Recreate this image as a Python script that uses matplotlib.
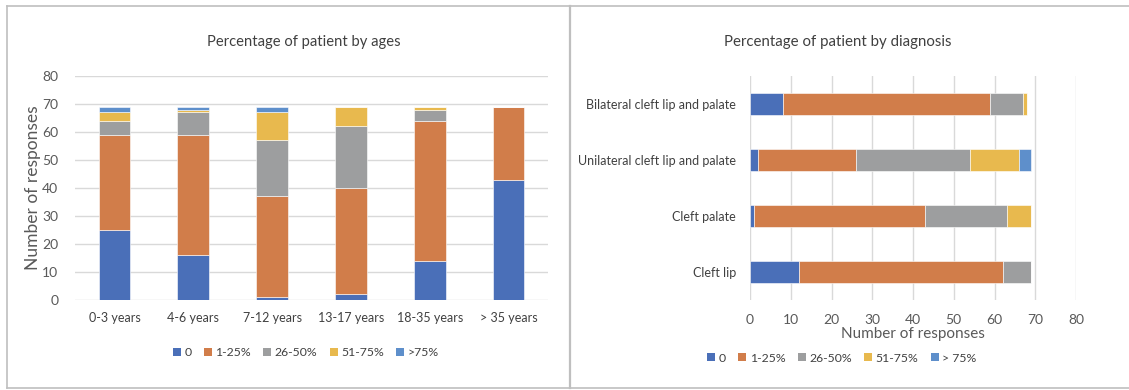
import matplotlib
matplotlib.use("Agg")
import matplotlib.pyplot as plt
from matplotlib.lines import Line2D
from matplotlib.patches import Patch
import numpy as np

plt.rcParams['font.family'] = ['Lato', 'DejaVu Sans']

# Survey responses, stacked by share of answers
series = ["0", "1-25%", "26-50%", "51-75%", ">75%"]
series_right = ["0", "1-25%", "26-50%", "51-75%", "> 75%"]
colors = ["#4A6FB8", "#D17D4A", "#9D9E9F", "#E8B94E", "#5E8FCB"]

age_groups = ["0-3 years", "4-6 years", "7-12 years", "13-17 years", "18-35 years", "> 35 years"]
age_0 = [25, 16, 1, 2, 14, 43]
age_1_25 = [34, 43, 36, 38, 50, 26]
age_26_50 = [5, 8, 20, 22, 4, 0]
age_51_75 = [3, 1, 10, 7, 1, 0]
age_75 = [2, 1, 2, 0, 0, 0]

diagnoses = ["Cleft lip", "Cleft palate", "Unilateral cleft lip and palate",
             "Bilateral cleft lip and palate"]
diag_0 = [12, 1, 2, 8]
diag_1_25 = [50, 42, 24, 51]
diag_26_50 = [7, 20, 28, 8]
diag_51_75 = [0, 6, 12, 1]
diag_75 = [0, 0, 3, 0]

W, H = 1129, 390
fig = plt.figure(figsize=(W / 100, H / 100), dpi=100)
fig.patch.set_facecolor("white")

text_c = "#404040"
tick_c = "#595959"
grid_c = "#D9D9D9"

# Panel frames
frame_c = "#BFBFBF"
def fx(x):
    return x / W
def fy(y):
    return 1 - y / H
fig.add_artist(Line2D([fx(7), 1], [fy(6), fy(6)], color=frame_c, lw=1.2))
fig.add_artist(Line2D([fx(7), 1], [fy(388), fy(388)], color=frame_c, lw=1.2))
fig.add_artist(Line2D([fx(7), fx(7)], [fy(6), fy(388)], color=frame_c, lw=1.2))
fig.add_artist(Line2D([fx(570), fx(570)], [fy(6), fy(388)], color=frame_c, lw=1.6))

legend_kw = dict(loc="center", ncol=5, frameon=False, fontsize=8.8,
                 handlelength=0.65, handleheight=0.65, handletextpad=0.3,
                 columnspacing=1.0, labelcolor=text_c)

# ---- Left: by age (vertical stacked columns) ----
ax1 = fig.add_axes([fx(75), fy(300), (548 - 75) / W, (300 - 76) / H])
x = np.arange(len(age_groups))
bottom = np.zeros(len(age_groups))
for name, vals, c in zip(series, [age_0, age_1_25, age_26_50, age_51_75, age_75], colors):
    ax1.bar(x, vals, width=0.4, bottom=bottom, color=c, label=name, zorder=3,
            edgecolor="white", linewidth=0.4)
    bottom += np.array(vals)
ax1.set_ylim(0, 80)
ax1.set_xlim(-0.5, len(age_groups) - 0.5)
ax1.set_yticks(range(0, 81, 10))
ax1.set_xticks(x)
ax1.set_xticklabels(age_groups, fontsize=9, color=text_c)
ax1.tick_params(axis="y", labelsize=10, colors=tick_c, length=0, pad=12)
ax1.tick_params(axis="x", length=0, pad=9)
ax1.grid(axis="y", color=grid_c, lw=1, zorder=0)
for s in ax1.spines.values():
    s.set_visible(False)
ax1.set_ylabel("Number of responses", fontsize=12.5, color=tick_c, labelpad=1)
fig.text(fx(304), fy(42), "Percentage of patient by ages", ha="center", va="center",
         fontsize=10.6, color=text_c)
handles = [Patch(facecolor=c, label=n) for n, c in zip(series, colors)]
fig.legend(handles=handles, bbox_to_anchor=(fx(306), fy(353)), **legend_kw)

# ---- Right: by diagnosis (horizontal stacked bars) ----
ax2 = fig.add_axes([fx(750), fy(300), (1076 - 750) / W, (300 - 76) / H])
y = np.arange(len(diagnoses))
left = np.zeros(len(diagnoses))
for name, vals, c in zip(series_right, [diag_0, diag_1_25, diag_26_50, diag_51_75, diag_75], colors):
    ax2.barh(y, vals, height=0.4, left=left, color=c, label=name, zorder=3,
             edgecolor="white", linewidth=0.4)
    left += np.array(vals)
ax2.set_xlim(0, 80)
ax2.set_ylim(-0.5, len(diagnoses) - 0.5)
ax2.set_xticks(range(0, 81, 10))
ax2.set_yticks(y)
ax2.set_yticklabels(diagnoses, fontsize=9, color=text_c)
ax2.tick_params(axis="x", labelsize=10, colors=tick_c, length=0, pad=10)
ax2.tick_params(axis="y", length=0, pad=10)
ax2.grid(axis="x", color=grid_c, lw=1, zorder=0)
for s in ax2.spines.values():
    s.set_visible(False)
ax2.set_xlabel("Number of responses", fontsize=11, color=tick_c, labelpad=1)
fig.text(fx(838), fy(42), "Percentage of patient by diagnosis", ha="center", va="center",
         fontsize=10.8, color=text_c)
handles2 = [Patch(facecolor=c, label=n) for n, c in zip(series_right, colors)]
fig.legend(handles=handles2, bbox_to_anchor=(fx(842), fy(358)), **legend_kw)

fig.savefig("out.png", dpi=100, facecolor="white")
